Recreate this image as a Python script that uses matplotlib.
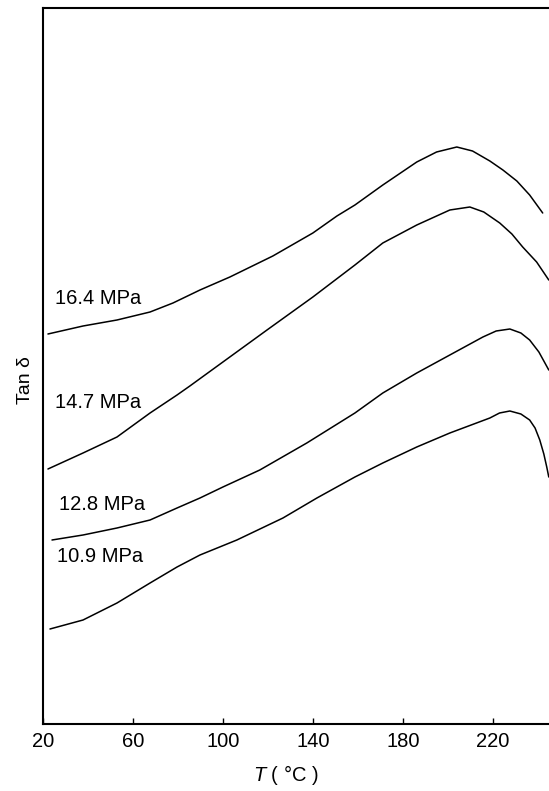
import matplotlib
matplotlib.use('Agg')
import numpy as np
import matplotlib.pyplot as plt

plt.rcParams['font.family'] = ['Liberation Sans', 'DejaVu Sans']
plt.rcParams['mathtext.fontset'] = 'custom'
plt.rcParams['mathtext.it'] = 'Liberation Sans:italic'
plt.rcParams['mathtext.rm'] = 'Liberation Sans'

# ---- data (Tan delta in arbitrary units) ----
t_164 = [22.2, 37.8, 52.9, 67.6, 77.8, 89.8, 103.1, 122.2, 140.0, 150.7, 158.7,
         171.1, 186.2, 195.0, 204.0, 211.0, 218.7, 224.5, 230.7, 236.4, 242.2]
tan_164 = [3.90, 3.98, 4.04, 4.12, 4.21, 4.34, 4.47, 4.68, 4.91, 5.08, 5.19,
           5.39, 5.62, 5.72, 5.77, 5.73, 5.63, 5.54, 5.43, 5.29, 5.11]

t_147 = [22.2, 37.8, 52.9, 67.6, 79.6, 85.3, 100.0, 119.6, 140.0, 158.7, 171.1,
         186.2, 200.9, 209.8, 216.0, 223.1, 228.5, 233.3, 239.5, 244.9]
tan_147 = [2.55, 2.71, 2.87, 3.11, 3.29, 3.38, 3.62, 3.94, 4.27, 4.59, 4.81,
           4.99, 5.14, 5.17, 5.12, 5.01, 4.90, 4.77, 4.62, 4.44]

t_128 = [24.0, 37.8, 52.9, 67.6, 79.6, 89.8, 100.0, 116.4, 137.3, 158.7, 171.1,
         186.2, 200.9, 215.6, 221.5, 227.6, 232.5, 236.4, 240.5, 244.9]
tan_128 = [1.84, 1.89, 1.96, 2.04, 2.16, 2.26, 2.37, 2.54, 2.81, 3.11, 3.31,
           3.51, 3.69, 3.87, 3.93, 3.95, 3.91, 3.84, 3.72, 3.54]

t_109 = [23.1, 37.8, 52.9, 67.6, 79.6, 89.8, 106.2, 126.7, 141.8, 158.7, 171.1,
         186.2, 200.9, 218.7, 223.0, 227.6, 232.5, 236.4, 238.8, 240.9, 242.7,
         244.0, 244.9]
tan_109 = [0.95, 1.04, 1.21, 1.41, 1.57, 1.69, 1.84, 2.06, 2.26, 2.47, 2.61,
           2.77, 2.91, 3.06, 3.11, 3.13, 3.10, 3.04, 2.96, 2.84, 2.70,
           2.57, 2.47]

labels = ['16.4 MPa', '14.7 MPa', '12.8 MPa', '10.9 MPa']
xticks = [20, 60, 100, 140, 180, 220]

# label placement
lab_x = [25.3, 25.3, 27.1, 26.2]
lab_y = [4.25, 3.21, 2.20, 1.67]

fig = plt.figure(figsize=(5.49, 7.91), dpi=100)
ax = fig.add_axes([43 / 549, 67 / 791, 506 / 549, 716 / 791])

for t, v in [(t_164, tan_164), (t_147, tan_147), (t_128, tan_128), (t_109, tan_109)]:
    ax.plot(t, v, color='black', lw=1.1, solid_joinstyle='round',
            solid_capstyle='round')

for lx, ly, lab in zip(lab_x, lab_y, labels):
    ax.text(lx, ly, lab, fontsize=14.5, ha='left', va='center')

ax.set_xlim(20, 245)
ax.set_ylim(0, 7.16)
ax.set_xticks(xticks)
ax.set_yticks([])
ax.tick_params(axis='x', direction='in', length=4.5, width=1.0,
               labelsize=14.5, pad=6)
for s in ['left', 'bottom', 'top']:
    ax.spines[s].set_linewidth(1.5)
ax.spines['right'].set_visible(False)

ax.set_xlabel(r'$T$ ( °C )', fontsize=14.5)
ax.xaxis.set_label_coords(0.48, -(775 - 724) / 716)
ax.xaxis.label.set_va('center')
ax.text(-18 / 506, 1 - 372 / 716, 'Tan δ', transform=ax.transAxes,
        rotation=90, ha='center', va='center', fontsize=14)

fig.savefig('out.png', dpi=100)
